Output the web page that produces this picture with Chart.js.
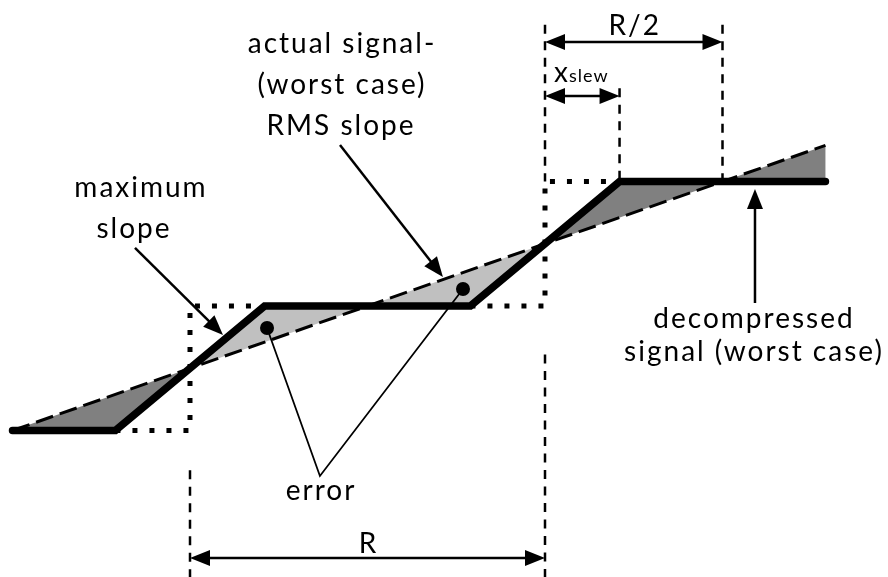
<!DOCTYPE html>
<html>
<head>
<meta charset="utf-8">
<script src="https://cdn.jsdelivr.net/npm/chart.js@4.4.0/dist/chart.umd.min.js"></script>
<style>
  html, body { margin: 0; padding: 0; background: #fff; }
  #wrap { width: 888px; height: 577px; }
</style>
</head>
<body>
<div id="wrap"><canvas id="chart" width="888" height="577"></canvas></div>
<script>
// Units: x = R/2 steps (dotted boxes at x = -1 and 1), y = quantisation steps

// decompressed signal (worst case)
const signalX = [-2.0, -1.42, -0.58, 0.58, 1.42, 2.58];
const signalY = [-1, -1, 0, 0, 1, 1];

// RMS slope of the actual signal
const rmsX = [-2.0, 2.58];
const rmsY = [-1.0, 1.29];

// ideal steps (dotted)
const stepLeftX = [-1.42, -1, -1, -0.58];
const stepLeftY = [-1, -1, 0, 0];
const stepRightX = [0.58, 1, 1, 1.42];
const stepRightY = [0, 0, 1, 1];

// error areas between the two curves
const darkAreaX = [[-2.0, -1.42, -1], [1, 1.42, 2], [2, 2.58, 2.58]];
const darkAreaY = [[-1, -1, -0.5], [0.5, 1, 1], [1, 1, 1.29]];
const lightAreaX = [[-1, -0.58, 0], [0, 0.58, 1]];
const lightAreaY = [[-0.5, 0, 0], [0, 0, 0.5]];

// error markers and their leader to the label
const errorX = [-0.566, -0.268, 0.538];
const errorY = [-0.177, -1.365, 0.137];

// vertical guides: x, top, bottom
const guideX = [-1, 1, 1, 1.42, 2];
const guideTop = [-1.32, 2.26, -0.39, 1.75, 2.26];
const guideBottom = [-2.3, 1.0, -2.3, 1.0, 1.0];

// dimension arrows: y, from x, to x
const dimLabels = ['R/2', 'xslew', 'R'];
const dimY = [2.12, 1.687, -2.024];
const dimFrom = [1, 1, -1];
const dimTo = [2, 1.42, 1];

// pointer arrows: tail -> tip
const pointerFromX = [-1.31, -0.155, 2.183];
const pointerFromY = [0.466, 1.293, 0.024];
const pointerToX = [-0.814, 0.425, 2.183];
const pointerToY = [-0.233, 0.233, 0.94];

const pts = (xs, ys) => xs.map((v, i) => ({ x: v, y: ys[i] }));

const datasets = [];

darkAreaX.forEach((xs, i) => {
  datasets.push({
    data: pts(xs, darkAreaY[i]), fill: 'shape', backgroundColor: '#808080',
    borderWidth: 0, pointRadius: 0, order: 9
  });
});
lightAreaX.forEach((xs, i) => {
  datasets.push({
    data: pts(xs, lightAreaY[i]), fill: 'shape', backgroundColor: '#c0c0c0',
    borderWidth: 0, pointRadius: 0, order: 9
  });
});

guideX.forEach((gx, i) => {
  datasets.push({
    data: [{ x: gx, y: guideTop[i] }, { x: gx, y: guideBottom[i] }],
    borderColor: '#000', borderWidth: 2.5, borderDash: [9, 7.5],
    borderCapStyle: 'butt', pointRadius: 0, fill: false, order: 7
  });
});

[[stepLeftX, stepLeftY], [stepRightX, stepRightY]].forEach(([xs, ys]) => {
  datasets.push({
    data: pts(xs, ys), borderColor: '#000', borderWidth: 5, borderDash: [5, 12],
    borderCapStyle: 'butt', borderJoinStyle: 'miter', pointRadius: 0, fill: false, order: 6
  });
});

datasets.push({
  data: pts(rmsX, rmsY), borderColor: '#000', borderWidth: 3, borderDash: [18, 7],
  borderCapStyle: 'butt', pointRadius: 0, fill: false, order: 5
});

datasets.push({
  data: pts(signalX, signalY), borderColor: '#000', borderWidth: 7.5,
  borderCapStyle: 'round', borderJoinStyle: 'miter', pointRadius: 0, fill: false, order: 2,
  clip: 10
});

// leader lines from error dots to the label
datasets.push({
  data: pts(errorX, errorY), borderColor: '#000', borderWidth: 1.8,
  pointRadius: 0, fill: false, order: 3
});
datasets.push({
  data: pts([errorX[0], errorX[2]], [errorY[0], errorY[2]]), showLine: false,
  pointRadius: 7, pointBackgroundColor: '#000', pointBorderWidth: 0, order: 1
});

function arrowHead(ctx, x1, y1, x2, y2, len, half) {
  const a = Math.atan2(y2 - y1, x2 - x1);
  ctx.beginPath();
  ctx.moveTo(x2, y2);
  ctx.lineTo(x2 - len * Math.cos(a) + half * Math.sin(a), y2 - len * Math.sin(a) - half * Math.cos(a));
  ctx.lineTo(x2 - len * Math.cos(a) - half * Math.sin(a), y2 - len * Math.sin(a) + half * Math.cos(a));
  ctx.closePath();
  ctx.fill();
}

function arrow(ctx, x1, y1, x2, y2, both) {
  const len = 20, half = 8;
  const a = Math.atan2(y2 - y1, x2 - x1);
  const sx = both ? x1 + (len - 2) * Math.cos(a) : x1;
  const sy = both ? y1 + (len - 2) * Math.sin(a) : y1;
  ctx.beginPath();
  ctx.moveTo(sx, sy);
  ctx.lineTo(x2 - (len - 2) * Math.cos(a), y2 - (len - 2) * Math.sin(a));
  ctx.stroke();
  arrowHead(ctx, x1, y1, x2, y2, len, half);
  if (both) arrowHead(ctx, x2, y2, x1, y1, len, half);
}

const annotate = {
  id: 'annotate',
  afterDatasetsDraw(chart) {
    const { ctx, scales: { x, y } } = chart;
    const px = v => x.getPixelForValue(v);
    const py = v => y.getPixelForValue(v);
    ctx.save();
    ctx.fillStyle = '#000';
    ctx.strokeStyle = '#000';
    ctx.lineWidth = 2.5;

    dimY.forEach((dy, i) => {
      arrow(ctx, px(dimFrom[i]), py(dimY[i]), px(dimTo[i]), py(dimY[i]), true);
    });
    pointerFromX.forEach((fx, i) => {
      arrow(ctx, px(fx), py(pointerFromY[i]), px(pointerToX[i]), py(pointerToY[i]), false);
    });

    const font = '28px Lato, "Open Sans", sans-serif';
    ctx.font = font;
    ctx.letterSpacing = '2px';
    ctx.textAlign = 'center';
    ctx.textBaseline = 'alphabetic';
    const text = (s, cx, by) => ctx.fillText(s, cx + 1, by);

    text('maximum', 140, 197);
    text('slope', 133, 238);
    text('actual signal-', 341, 53);
    text('(worst case)', 341, 94);
    text('RMS slope', 340, 135);
    text('error', 320, 500);
    text('decompressed', 753, 328);
    text('signal (worst case)', 753, 361);

    // dimension labels
    text(dimLabels[0], (px(dimFrom[0]) + px(dimTo[0])) / 2, 35);
    text(dimLabels[2], (px(dimFrom[2]) + px(dimTo[2])) / 2, 553);

    ctx.letterSpacing = '0px';
    ctx.textAlign = 'left';
    ctx.font = '28px Lato, "Open Sans", sans-serif';
    ctx.fillText('x', 554, 82);
    const w = ctx.measureText('x').width;
    ctx.font = '18px Lato, "Open Sans", sans-serif';
    ctx.letterSpacing = '1px';
    ctx.fillText('slew', 554 + w + 1, 82);
    ctx.restore();
  }
};

new Chart(document.getElementById('chart'), {
  type: 'line',
  data: { datasets },
  options: {
    responsive: false,
    animation: false,
    events: [],
    layout: { padding: 0, autoPadding: false },
    elements: { line: { tension: 0 } },
    plugins: { legend: { display: false }, tooltip: { enabled: false } },
    scales: {
      x: { type: 'linear', display: false, min: -367.5 / 177.5, max: 520.5 / 177.5 },
      y: { type: 'linear', display: false, min: -271 / 124.5, max: 306 / 124.5 }
    }
  },
  plugins: [annotate]
});
</script>
</body>
</html>
